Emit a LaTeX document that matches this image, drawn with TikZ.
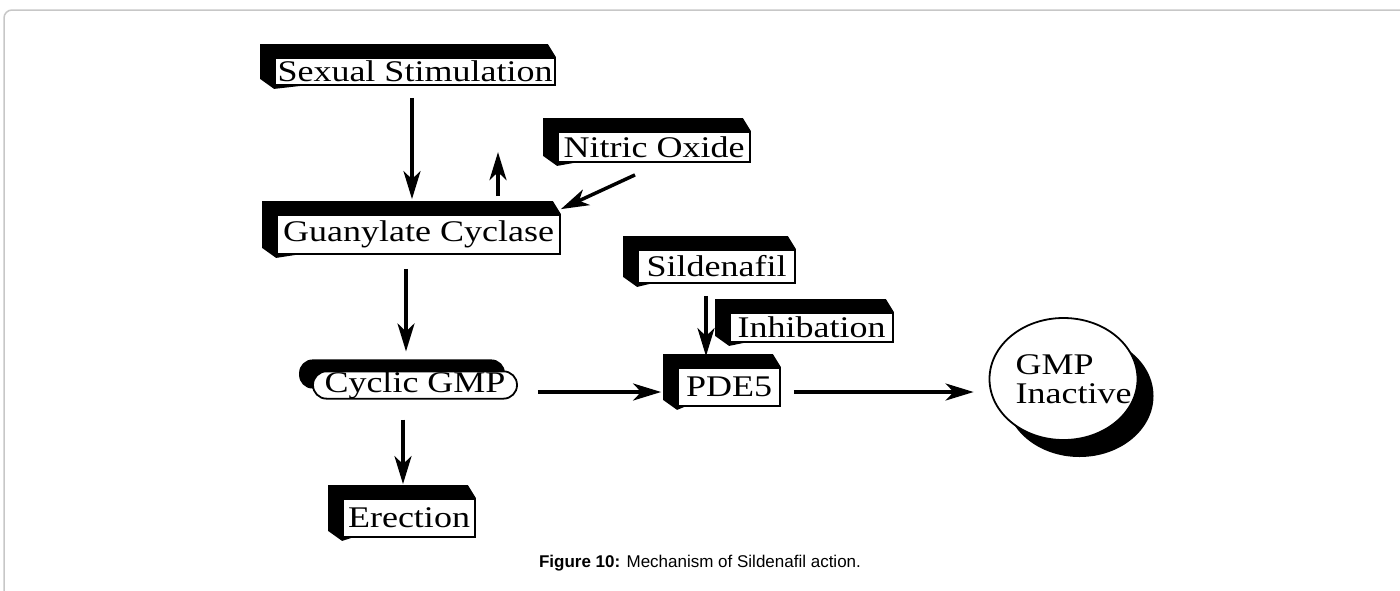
\documentclass[tikz,border=0pt]{standalone}
\usepackage{fontspec}
\setmainfont{Liberation Serif}[FakeStretch=1.2]
\newfontfamily\capfont{Liberation Sans}
\usetikzlibrary{arrows.meta,shapes.geometric,backgrounds}

\begin{document}
\begin{tikzpicture}[x=1pt,y=1pt,
  blk/.style={draw, fill=white, line width=1.8pt, inner sep=0pt, font=\fontsize{30}{30}\selectfont},
  arr/.style={line width=3.5pt, -{Stealth[length=28pt,width=17pt,inset=8pt]}}]
  \useasboundingbox (0,0) rectangle (1400,-590);
  \draw[black!22, line width=1.5pt, rounded corners=8pt] (4,-620) |- (1430,-10);

  \node[blk, minimum width=280, minimum height=27] (sti) at (415,-71.5) {Sexual Stimulation};
  \node[blk, minimum width=192, minimum height=30] (no)  at (654,-147) {Nitric Oxide};
  \node[blk, minimum width=283, minimum height=39] (guc) at (418.5,-234.5) {Guanylate Cyclase};
  \node[blk, rounded corners=13.5pt, minimum width=204, minimum height=27] (cg) at (415,-385) {Cyclic GMP};
  \node[blk, minimum width=132, minimum height=38] (ere) at (409,-518) {Erection};
  \node[blk, minimum width=157, minimum height=33] (sil) at (716.5,-266.5) {Sildenafil};
  \node[blk, minimum width=163, minimum height=29] (inh) at (811.5,-327.5) {Inhibation};
  \node[blk, minimum width=102, minimum height=38] (pde) at (729,-387) {PDE5};
  \node[blk, ellipse, minimum width=148, minimum height=122,
    label={[xshift=10pt, align=left, font=\fontsize{30}{29}\selectfont]center:GMP\\Inactive}] (gi) at (1063.5,-379) {};

  % black sides behind the boxes
  \begin{scope}[on background layer]
    \foreach \n in {sti,no,guc,ere,sil,inh,pde}
      \fill ([shift={(-14,13)}]\n.north west) -- ([shift={(-8,13)}]\n.north east) -- (\n.north east)
        -- ([yshift=-3]\n.south west) -- ([shift={(-14,7)}]\n.south west) -- cycle;
    \fill[rounded corners=13.5pt] ([shift={(-13,11)}]cg.south west) rectangle ([shift={(-13,11)}]cg.north east);
    \fill ([shift={(16,-17)}]gi.center) ellipse (74 and 61);
  \end{scope}

  \coordinate (up) at ([shift={(79.5,62)}]guc.north);
  \path[arr]
  ([shift={(-3,-12)}]sti.south) edge ([shift={(-6.5,15)}]guc.north)
  ([shift={(79.5,18)}]guc.north) edge (up)
  ([shift={(-19,-12)}]no.south) edge ([yshift=5]guc.north east)
  ([shift={(-12.5,-14)}]guc.south) edge ([shift={(-9,19)}]cg.north)
  ([shift={(-12,-20)}]cg.south) edge ([shift={(-6,14)}]ere.north)
  ([shift={(20,-7)}]cg.east) edge ([shift={(-16,-5)}]pde.west)
  ([shift={(-10.5,-12)}]sil.south) edge ([shift={(-23,11)}]pde.north)
  ([shift={(13,-5)}]pde.east) edge ([shift={(-15,-13)}]gi.west);

  \node[font=\capfont\fontsize{17}{17}\selectfont] (cap) at (700,-563) {\textbf{Figure 10:} Mechanism of Sildenafil action.};
\end{tikzpicture}
\end{document}
